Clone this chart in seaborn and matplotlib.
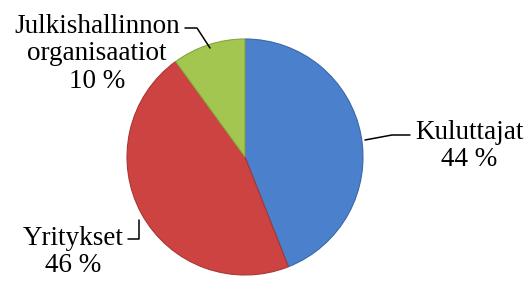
import matplotlib
matplotlib.use('Agg')
import matplotlib.pyplot as plt
import seaborn as sns

sns.set_theme(style='white')
plt.rcParams['font.family'] = ['Liberation Serif', 'DejaVu Serif']

# data
categories = ['Kuluttajat', 'Yritykset', 'Julkishallinnon\norganisaatiot']
shares = [44, 46, 10]
colors = ['#4a80cc', '#cc4342', '#a3c650']
edge_colors = ['#3a68a8', '#a83634', '#86a53c']


def px(x, y):
    """Convert reference pixel position to pie data coordinates."""
    return ((x - 245) / 118, (157 - y) / 118)


fig = plt.figure(figsize=(5.28, 2.82), dpi=100)
ax = fig.add_axes([(245 - 118) / 528, (282 - 157 - 118) / 282,
                   236 / 528, 236 / 282])
wedges, _ = ax.pie(shares, colors=colors, startangle=90, counterclock=False,
                   radius=1, wedgeprops={'linewidth': 0.8})
for w, ec in zip(wedges, edge_colors):
    w.set_edgecolor(ec)
ax.set_xlim(-1, 1)
ax.set_ylim(-1, 1)
ax.set_aspect('equal')
ax.axis('off')

labels = [f'{c}\n{s} %' for c, s in zip(categories, shares)]
label_pos = [px(469, 146), px(73, 252), px(97, 54)]
leaders = [
    [px(365, 140), px(392, 135), px(410, 135)],
    [px(128, 239), px(139, 239), px(139, 220)],
    [px(185, 28), px(197, 28), px(210, 48)],
]

for lab, pos, pts in zip(labels, label_pos, leaders):
    ax.text(pos[0], pos[1], lab, ha='center', va='center', fontsize=19.5,
            linespacing=1.15, color='black', clip_on=False)
    xs = [p[0] for p in pts]
    ys = [p[1] for p in pts]
    ax.plot(xs, ys, color='black', lw=1.1, clip_on=False)

fig.savefig('out.png', dpi=100)
